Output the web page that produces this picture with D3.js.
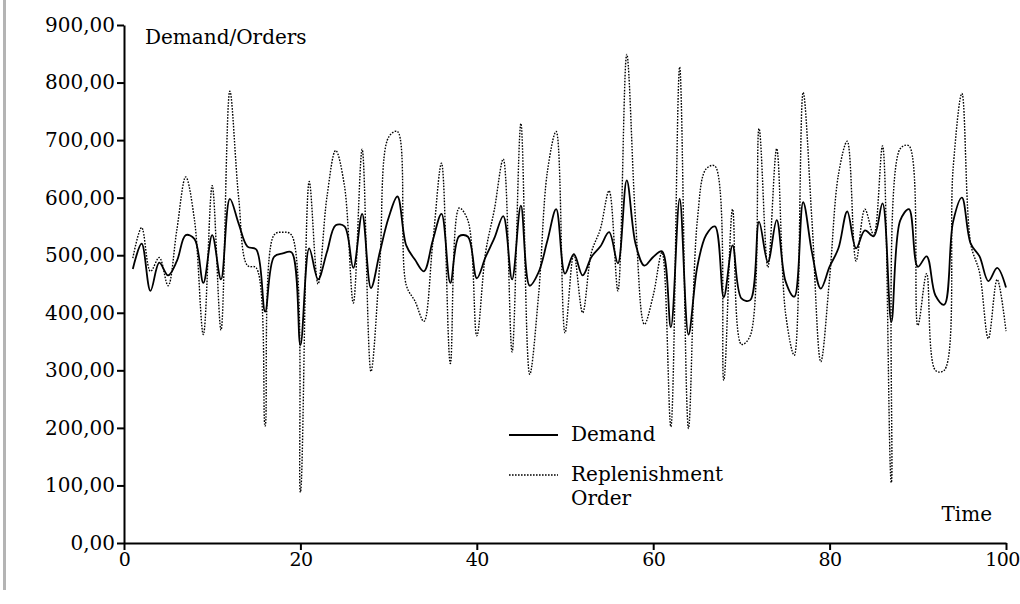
<!DOCTYPE html>
<html>
<head>
<meta charset="utf-8">
<script src="https://cdn.jsdelivr.net/npm/d3@7"></script>
<style>
  body { margin: 0; background: #fff; }
  text { font-family: "DejaVu Serif", serif; font-size: 20px; fill: #000; }
  .axis path, .axis line { stroke: #000; stroke-width: 2; }
</style>
</head>
<body>
<div id="chart"></div>
<script>
// time steps 1..100
var times = d3.range(1, 101);

var demand = [476, 520, 438, 487, 465, 490, 535, 528, 452, 535,
              458, 598, 555, 515, 510, 402, 497, 503, 505, 344,
              512, 458, 505, 552, 550, 478, 572, 443, 505, 565,
              602, 517, 492, 472, 525, 572, 452, 533, 532, 460,
              497, 530, 568, 458, 586, 447, 470, 525, 580, 468,
              502, 465, 497, 515, 540, 486, 630, 520, 482, 497,
              507, 375, 598, 362, 480, 535, 550, 427, 517, 425,
              422, 558, 488, 561, 455, 428, 592, 505, 442, 480,
              512, 576, 512, 543, 533, 590, 384, 560, 580, 480,
              498, 430, 414, 558, 600, 520, 498, 455, 478, 444];

var orders = [495, 548, 472, 496, 447, 545, 636, 560, 362, 621,
              370, 785, 600, 482, 478, 203, 535, 540, 535, 88,
              628, 450, 600, 682, 620, 417, 684, 298, 485, 705,
              715, 448, 420, 385, 520, 660, 312, 582, 560, 360,
              505, 580, 667, 332, 729, 293, 430, 645, 715, 365,
              502, 400, 505, 545, 612, 438, 849, 560, 380, 430,
              505, 202, 827, 199, 560, 650, 655, 283, 580, 345,
              360, 720, 479, 685, 400, 326, 783, 560, 315, 460,
              640, 698, 490, 580, 535, 690, 105, 685, 690, 378,
              468, 300, 300, 650, 781, 520, 470, 355, 458, 368];

var xTicks = [0, 20, 40, 60, 80, 100],
    yTicks = d3.range(0, 901, 100);

var legendItems = [
    {lines: ["Demand"], dash: null, width: 1.8},
    {lines: ["Replenishment", "Order"], dash: "1.6,1.4", width: 1.4}
];

var margin = {top: 25, right: 14, bottom: 61, left: 124},
    width = 1020 - margin.left - margin.right,
    height = 604 - margin.top - margin.bottom;

var svg = d3.select("#chart")
    .append("svg")
    .attr("width", 1020)
    .attr("height", 604);

// grey frame edge at the far left
svg.append("rect")
    .attr("x", 3)
    .attr("y", 0)
    .attr("width", 3)
    .attr("height", 590)
    .style("fill", "#b4b4b4");

var g = svg.append("g")
    .attr("transform", "translate(" + margin.left + "," + margin.top + ")");

var x = d3.scaleLinear().domain([0, 100]).range([0, 882]);
var y = d3.scaleLinear().domain([0, 900]).range([518, 0]);

var fmt = function(d) { return d3.format(".2f")(d).replace(".", ","); };

g.append("g")
    .attr("class", "axis")
    .call(d3.axisLeft(y).tickValues(yTicks).tickFormat(fmt).tickSize(7).tickPadding(2).tickSizeOuter(0))
    .call(function(a) { a.selectAll("text").style("font-size", "20px").style("font-family", "DejaVu Serif"); });

g.append("g")
    .attr("class", "axis")
    .attr("transform", "translate(0," + 518 + ")")
    .call(d3.axisBottom(x).tickValues(xTicks).tickSize(7).tickPadding(3).tickSizeOuter(0))
    .call(function(a) {
        a.selectAll("text")
            .style("font-size", "19px")
            .style("font-family", "DejaVu Serif")
            .style("letter-spacing", "-0.6px")
            .attr("dx", function(d) { return d === 100 ? -4 : 0; });
    });

var line = d3.line()
    .x(function(d, i) { return x(times[i]); })
    .y(function(d) { return y(d); })
    .curve(d3.curveCatmullRom.alpha(0.5));

g.append("path")
    .datum(orders)
    .attr("d", line)
    .style("fill", "none")
    .style("stroke", "#000")
    .style("stroke-width", 1.4)
    .style("stroke-dasharray", "1.6,1.4");

g.append("path")
    .datum(demand)
    .attr("d", line)
    .style("fill", "none")
    .style("stroke", "#000")
    .style("stroke-width", 1.8);

// axis titles
g.append("text")
    .attr("x", 21)
    .attr("y", 19)
    .text("Demand/Orders");

g.append("text")
    .attr("x", 868)
    .attr("y", 496)
    .style("text-anchor", "end")
    .text("Time");

// legend
var legend = g.append("g")
    .attr("transform", "translate(385,410)");

var item = legend.selectAll(".item")
    .data(legendItems)
    .enter().append("g")
        .attr("class", "item")
        .attr("transform", function(d, i) { return "translate(0," + (i * 40) + ")"; });

item.append("line")
    .attr("x1", 0)
    .attr("x2", 49)
    .attr("y1", 0)
    .attr("y2", 0)
    .style("stroke", "#000")
    .style("stroke-width", function(d) { return d.width; })
    .style("stroke-dasharray", function(d) { return d.dash; });

item.append("text")
    .attr("x", 61)
    .attr("y", 6)
    .selectAll("tspan")
    .data(function(d) { return d.lines; })
    .enter().append("tspan")
        .attr("x", 62)
        .attr("dy", function(d, i) { return i === 0 ? 0 : 24; })
        .text(function(d) { return d; });
</script>
</body>
</html>
